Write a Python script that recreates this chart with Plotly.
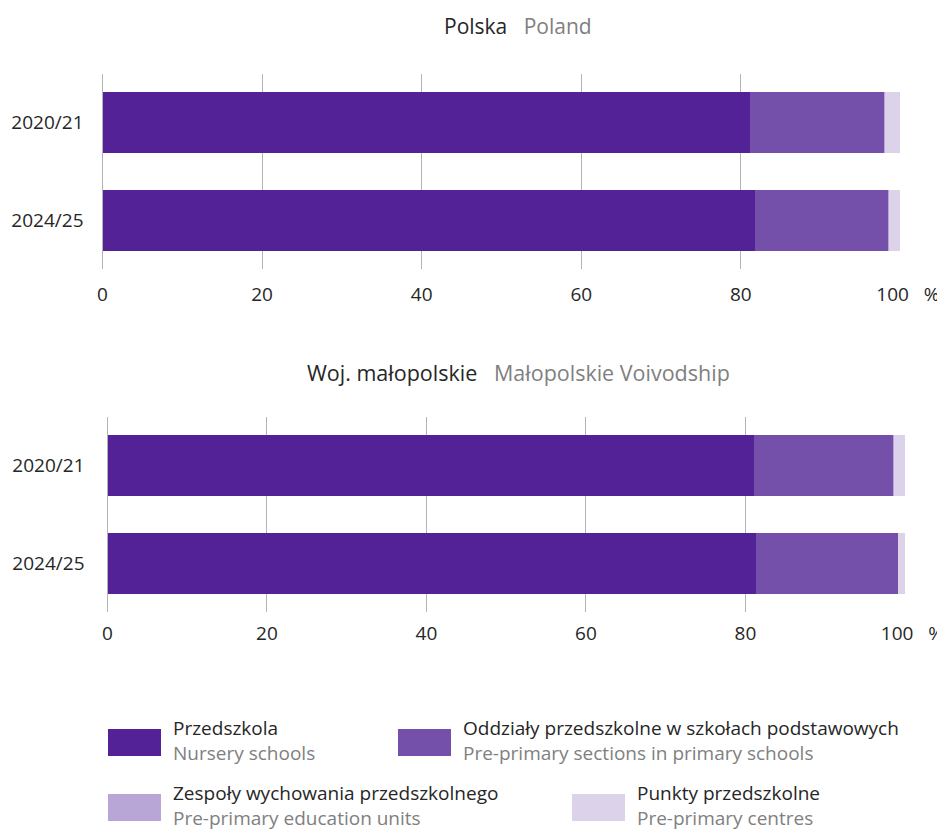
import plotly.graph_objects as go

W, H = 945, 833
OFF = 8  # page body margin of the browser

years = ["2020/21", "2024/25"]

# Polska (Poland), % shares
pl_przedszkola = [81.1, 81.8]
pl_oddzialy = [16.8, 16.7]
pl_zespoly = [0.2, 0.1]
pl_punkty = [1.9, 1.4]

# Woj. małopolskie, % shares
mp_przedszkola = [81.1, 81.3]
mp_oddzialy = [17.4, 17.8]
mp_zespoly = [0.1, 0.0]
mp_punkty = [1.4, 0.9]

series_pl = ["Przedszkola", "Oddziały przedszkolne w szkołach podstawowych",
             "Zespoły wychowania przedszkolnego", "Punkty przedszkolne"]
series_en = ["Nursery schools", "Pre-primary sections in primary schools",
             "Pre-primary education units", "Pre-primary centres"]
colors = ["#522296", "#7450ab", "#b8a7d6", "#dcd3eb"]

NB = "\u00a0"
x_ticks = [0, 20, 40, 60, 80, 100]
x_ticktext = ["0", "20", "40", "60", "80", NB * 3 + "100" + NB * 3 + "%"]

FONT = "Open Sans"
DARK = "#262626"
GREY = "#808080"
GRID = "#b4b4b4"

def px_x(p):
    return (p - OFF) / W

def px_y(p):
    return 1 - (p - OFF) / H

fig = go.Figure()

top_data = [pl_przedszkola, pl_oddzialy, pl_zespoly, pl_punkty]
bot_data = [mp_przedszkola, mp_oddzialy, mp_zespoly, mp_punkty]

for i in range(4):
    fig.add_trace(go.Bar(y=years, x=top_data[i], orientation="h", marker_color=colors[i],
                         marker_line_width=0, xaxis="x", yaxis="y", showlegend=False,
                         name=series_pl[i]))
    fig.add_trace(go.Bar(y=years, x=bot_data[i], orientation="h", marker_color=colors[i],
                         marker_line_width=0, xaxis="x2", yaxis="y2", showlegend=False,
                         name=series_pl[i]))

xaxis_common = dict(range=[0, 100.01], tickvals=x_ticks, ticktext=x_ticktext, showgrid=True,
                    gridcolor=GRID, gridwidth=1, zeroline=True, zerolinecolor=GRID,
                    zerolinewidth=1, showline=False, ticks="", automargin=False,
                    tickfont=dict(family=FONT, size=19, color=DARK), fixedrange=True)
yaxis_common = dict(autorange="reversed", showgrid=False, zeroline=False, showline=False,
                    ticks="", automargin=False,
                    tickfont=dict(family=FONT, size=19, color=DARK), fixedrange=True)

fig.update_layout(
    width=W, height=H,
    margin=dict(l=0, r=0, t=0, b=0),
    paper_bgcolor="white", plot_bgcolor="white",
    barmode="stack", bargap=0.375,
    font=dict(family=FONT, color=DARK),
    xaxis=dict(domain=[px_x(102.5), px_x(900.5)], anchor="y", ticklabelstandoff=12, **xaxis_common),
    yaxis=dict(domain=[px_y(269), px_y(74)], anchor="x", ticklabelstandoff=18, **yaxis_common),
    xaxis2=dict(domain=[px_x(107.5), px_x(905)], anchor="y2", ticklabelstandoff=8, **xaxis_common),
    yaxis2=dict(domain=[px_y(612), px_y(417)], anchor="x2", ticklabelstandoff=22, **yaxis_common),
)

ann = []
ann.append(dict(x=px_x(517.5), y=px_y(26), xref="paper", yref="paper", showarrow=False,
                xanchor="center", yanchor="middle",
                text=f"<span style='color:{DARK}'>Polska</span>   <span style='color:{GREY}'>Poland</span>",
                font=dict(family=FONT, size=21)))
ann.append(dict(x=px_x(518.5), y=px_y(372), xref="paper", yref="paper", showarrow=False,
                xanchor="center", yanchor="middle",
                text=f"<span style='color:{DARK}'>Woj. małopolskie</span>   <span style='color:{GREY}'>Małopolskie Voivodship</span>",
                font=dict(family=FONT, size=21.5)))

# Legend (custom): square top-left in pixels, two-line text
leg_pos = [(108, 729), (398, 729), (108, 794), (572, 794)]
shapes = []
for i, (lx, ly) in enumerate(leg_pos):
    shapes.append(dict(type="rect", xref="paper", yref="paper",
                       x0=px_x(lx), x1=px_x(lx + 53), y0=px_y(ly + 27), y1=px_y(ly),
                       fillcolor=colors[i], line_width=0))
    ann.append(dict(x=px_x(lx + 63), y=px_y(ly + 11.5), xref="paper", yref="paper", showarrow=False,
                    xanchor="left", yanchor="middle", align="left",
                    text=f"<span style='color:{DARK}'>{series_pl[i]}</span><br><span style='color:{GREY}'>{series_en[i]}</span>",
                    font=dict(family=FONT, size=19)))

fig.update_layout(annotations=ann, shapes=shapes)

fig.write_html("out.html")
